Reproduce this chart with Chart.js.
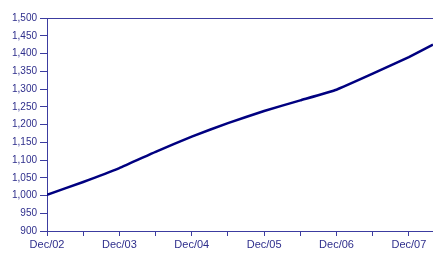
<!DOCTYPE html>
<html>
<head>
<meta charset="utf-8">
<script src="https://cdn.jsdelivr.net/npm/chart.js@4"></script>
<style>
  html, body { margin: 0; padding: 0; background: #fff; }
  #wrap { width: 433px; height: 256px; }
</style>
</head>
<body>
<div id="wrap"><canvas id="linechart"></canvas></div>
<script>
// months counted from Dec/02
const months = [0, 6, 12, 18, 24, 30, 36, 42, 48, 54, 60, 64];
const values = [1002, 1038, 1077, 1123, 1166, 1204, 1238, 1268, 1298, 1343, 1390, 1425];
const yearLabels = ['Dec/02', 'Dec/03', 'Dec/04', 'Dec/05', 'Dec/06', 'Dec/07'];

const axisColor = '#3c3ca0';
const textColor = '#2e2e8c';

const ctx = document.getElementById('linechart').getContext('2d');
const linechart = new Chart(ctx, {
  type: 'line',
  data: {
    datasets: [{
      data: months.map((m, i) => ({ x: m, y: values[i] })),
      borderColor: '#000080',
      borderWidth: 2.5,
      pointRadius: 0,
      tension: 0.1,
      fill: false
    }]
  },
  options: {
    responsive: true,
    maintainAspectRatio: false,
    animation: false,
    layout: { padding: { top: 18, right: 0, left: 0, bottom: 0 } },
    plugins: { legend: { display: false }, tooltip: { enabled: false } },
    scales: {
      x: {
        type: 'linear',
        min: 0,
        max: 64,
        afterFit: (scale) => { scale.height = 25; },
        afterBuildTicks: (scale) => {
          const t = [];
          for (let m = 0; m <= 60; m += 6) t.push({ value: m });
          scale.ticks = t;
        },
        border: { color: axisColor, width: 1 },
        grid: { drawOnChartArea: false, color: axisColor, tickColor: axisColor, tickLength: 5 },
        ticks: {
          autoSkip: false,
          maxRotation: 0,
          padding: 2,
          color: textColor,
          font: { family: 'Liberation Sans, Arial', size: 11 },
          callback: (v) => (v % 12 === 0 ? yearLabels[v / 12] : '')
        }
      },
      y: {
        min: 900,
        max: 1500,
        afterFit: (scale) => { scale.width = 47; },
        border: { color: axisColor, width: 1 },
        grid: {
          drawOnChartArea: true,
          color: (c) => (c.tick && c.tick.value === 1500 ? axisColor : 'rgba(0,0,0,0)'),
          tickColor: axisColor,
          tickLength: 7
        },
        ticks: {
          stepSize: 50,
          padding: 3,
          color: textColor,
          font: { family: 'Liberation Sans, Arial', size: 10 },
          callback: (v) => v.toLocaleString('en-US')
        }
      }
    }
  }
});
</script>
</body>
</html>
